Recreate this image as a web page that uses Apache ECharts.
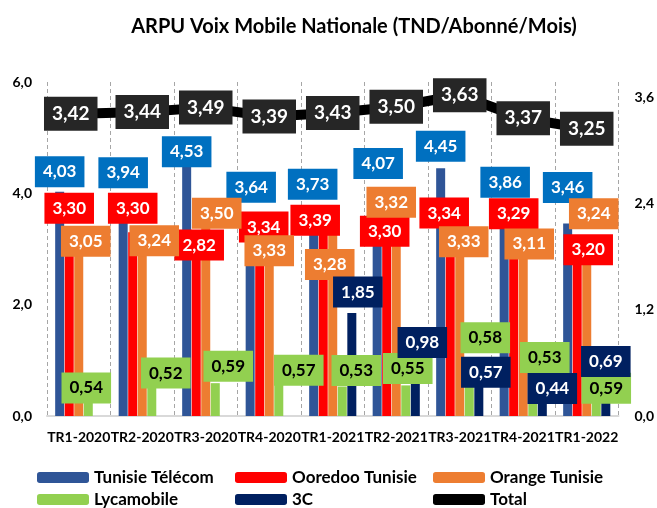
<!DOCTYPE html>
<html>
<head>
<meta charset="utf-8">
<script src="https://cdn.jsdelivr.net/npm/echarts@6/dist/echarts.min.js"></script>
<style>
  html, body { margin: 0; padding: 0; background: #fff; }
  #chart { width: 657px; height: 508px; }
</style>
</head>
<body>
<div id="chart"></div>
<script>
// data
const categories = ["TR1-2020", "TR2-2020", "TR3-2020", "TR4-2020", "TR1-2021", "TR2-2021", "TR3-2021", "TR4-2021", "TR1-2022"];
const tunisieTelecom = [4.03, 3.94, 4.53, 3.64, 3.73, 4.07, 4.45, 3.86, 3.46];
const ooredoo = [3.30, 3.30, 2.82, 3.34, 3.39, 3.30, 3.34, 3.29, 3.20];
const orange = [3.05, 3.24, 3.50, 3.33, 3.28, 3.32, 3.33, 3.11, 3.24];
const lycamobile = [0.54, 0.52, 0.59, 0.57, 0.53, 0.55, 0.58, 0.53, 0.59];
const troisC = [null, null, null, null, 1.85, 0.98, 0.57, 0.44, 0.69];
const total = [3.42, 3.44, 3.49, 3.39, 3.43, 3.50, 3.63, 3.37, 3.25];
const leftTicks = [0, 2, 4, 6];
const rightTicks = [0, 1.2, 2.4, 3.6];

// label box nudges (dx, dy of box centre from the bar top), as placed by hand in the original
const ttShift = [[0, -20], [0, -24], [0, -12], [1, -26], [-1, -24], [1, -26], [0, -22], [1, -19], [0, -36]];
const ooShift = [[0, -24], [0, -24], [3, -14], [4, -3], [-8, -7], [-2, -1], [-6, -17], [0, -19], [11, 12]];
const orShift = [[7, -5], [12, 5], [11, -8], [0, 20], [-3, 31], [-5, -29], [4, 11], [6, 1], [7, -22]];
const lyShift = [[-2, 2], [14, -14], [13, -17], [20, -14], [14, -16], [2, -17], [16, -46], [12, -29], [10, 5]];
const c3Shift = [[0, 0], [0, 0], [0, 0], [0, 0], [6, -21], [7, -19], [7, -12], [10, -3], [0, -16]];
const totShift = [[-8, 0], [0, 0], [0, 0], [0, 0], [0, 0], [0, 0], [0, 0], [0, 0], [0, 0]];

const FONT = "Lato";
const fmt = (v, d) => Number(v).toFixed(d).replace(".", ",");

const chart = echarts.init(document.getElementById("chart"), null, { renderer: "canvas" });

const boxLabel = (bg, color) => ({
  show: true,
  position: "top",
  distance: 0,
  formatter: (p) => fmt(p.value, 2),
  backgroundColor: bg,
  color: color,
  fontFamily: FONT,
  fontWeight: "bold",
  fontSize: 17,
  lineHeight: 21,
  padding: [5, 8],
});

const withShift = (values, shift) =>
  values.map((v, i) => ({ value: v, label: { offset: [shift[i][0], shift[i][1] + 15.5] } }));

const barSeries = (name, values, shift, color, labelBg, labelColor) => ({
  name: name,
  type: "bar",
  barWidth: 9,
  barGap: "6%",
  itemStyle: { color: color },
  label: boxLabel(labelBg, labelColor),
  data: withShift(values, shift),
});

const legendBase = {
  orient: "vertical",
  top: 469,
  height: 60,
  padding: 0,
  itemWidth: 52,
  itemHeight: 11,
  itemGap: 5,
  textStyle: { fontFamily: FONT, fontWeight: "bold", fontSize: 17, lineHeight: 17, color: "#000" },
};

const option = {
  animation: false,
  title: {
    text: "ARPU Voix Mobile Nationale (TND/Abonné/Mois)",
    left: 349,
    top: 12,
    textAlign: "center",
    textStyle: { fontFamily: FONT, fontWeight: "bold", fontSize: 20, color: "#000" },
  },
  legend: [
    Object.assign({}, legendBase, { left: 37, data: ["Tunisie Télécom", "Lycamobile"] }),
    Object.assign({}, legendBase, { left: 235, data: ["Ooredoo Tunisie", "3C"] }),
    Object.assign({}, legendBase, { left: 433, data: ["Orange Tunisie", { name: "Total", icon: "roundRect" }] }),
  ],
  grid: { left: 47, right: 38, top: 82, bottom: 92 },
  xAxis: {
    type: "category",
    data: categories,
    axisLine: { lineStyle: { color: "#d9d9d9", width: 2 } },
    axisTick: { show: false },
    axisLabel: { interval: 0, margin: 14, color: "#000", fontFamily: FONT, fontWeight: "bold", fontSize: 14 },
    splitLine: { show: true, lineStyle: { color: "#a6a6a6", type: [4, 3], width: 1 } },
  },
  yAxis: [
    {
      type: "value",
      min: 0,
      max: 6,
      interval: 2,
      axisLine: { show: false },
      axisTick: { show: false },
      splitLine: { show: false },
      axisLabel: {
        margin: 15,
        color: "#000",
        fontFamily: FONT,
        fontWeight: "bold",
        fontSize: 14,
        formatter: (v) => (leftTicks.includes(v) ? fmt(v, 1) : ""),
      },
    },
    {
      type: "value",
      min: 0,
      max: 3.78,
      interval: 1.2,
      axisLine: { show: false },
      axisTick: { show: false },
      splitLine: { show: false },
      axisLabel: {
        margin: 16,
        color: "#000",
        fontFamily: FONT,
        fontWeight: "bold",
        fontSize: 14,
        formatter: (v) => (rightTicks.some((t) => Math.abs(t - v) < 1e-6) ? fmt(v, 1) : ""),
      },
    },
  ],
  series: [
    barSeries("Tunisie Télécom", tunisieTelecom, ttShift, "#2F5597", "#0070C0", "#fff"),
    barSeries("Ooredoo Tunisie", ooredoo, ooShift, "#FF0000", "#FF0000", "#fff"),
    barSeries("Orange Tunisie", orange, orShift, "#ED7D31", "#ED7D31", "#fff"),
    barSeries("Lycamobile", lycamobile, lyShift, "#92D050", "#92D050", "#000"),
    barSeries("3C", troisC, c3Shift, "#002060", "#002060", "#fff"),
    {
      name: "Total",
      type: "line",
      yAxisIndex: 1,
      symbol: "circle",
      symbolSize: 1,
      itemStyle: { color: "#000" },
      lineStyle: { color: "#000", width: 10 },
      z: 3,
      label: {
        show: true,
        position: "inside",
        formatter: (p) => fmt(p.value, 2),
        backgroundColor: "#262626",
        color: "#fff",
        fontFamily: FONT,
        fontWeight: "bold",
        fontSize: 19,
        lineHeight: 22,
        padding: [6, 8],
      },
      data: total.map((v, i) => ({ value: v, label: { offset: totShift[i] } })),
    },
  ],
};

chart.setOption(option);
window.addEventListener("resize", () => chart.resize());
</script>
</body>
</html>
